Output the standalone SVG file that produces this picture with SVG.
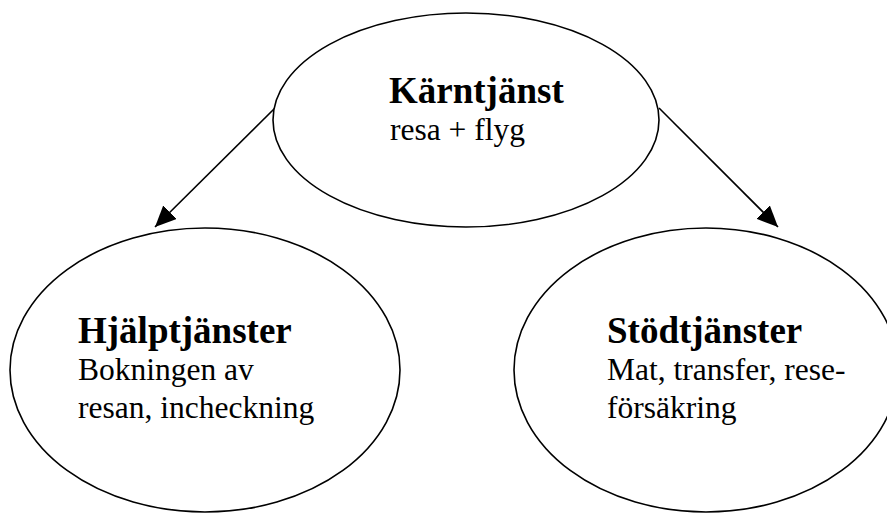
<svg xmlns="http://www.w3.org/2000/svg" width="887" height="513" viewBox="0 0 887 513">
  <style>
    .node { fill: #ffffff; stroke: #000000; stroke-width: 1.6; }
    .title { font-family: "Liberation Serif", "Times New Roman", serif; font-weight: bold; font-size: 37px; fill: #000000; }
    .body { font-family: "Liberation Serif", "Times New Roman", serif; font-size: 31.5px; fill: #000000; }
    .edge { stroke: #000000; stroke-width: 1.6; fill: none; marker-end: url(#arrow); }
  </style>
  <defs>
    <marker id="arrow" markerUnits="userSpaceOnUse" markerWidth="21" markerHeight="19" refX="21" refY="9.5" orient="auto">
      <path d="M0,0 L21,9.5 L0,19 z" fill="#000000"/>
    </marker>
  </defs>
  <rect width="887" height="513" fill="#ffffff"/>

  <g id="connectors">
    <line class="edge" x1="275" y1="108" x2="155" y2="227"/>
    <line class="edge" x1="659" y1="108" x2="778" y2="227"/>
  </g>

  <g id="karntjanst">
    <ellipse class="node" cx="466" cy="120" rx="193" ry="107"/>
    <text class="title" x="389" y="103">Kärntjänst</text>
    <text class="body" x="390" y="140">resa + flyg</text>
  </g>

  <g id="hjalptjanster">
    <ellipse class="node" cx="205" cy="370" rx="195" ry="142"/>
    <text class="title" x="78" y="343">Hjälptjänster</text>
    <text class="body" x="78" y="380">Bokningen av</text>
    <text class="body" x="78" y="418">resan, incheckning</text>
  </g>

  <g id="stodtjanster">
    <ellipse class="node" cx="706" cy="370" rx="192" ry="142"/>
    <text class="title" x="607" y="343">Stödtjänster</text>
    <text class="body" x="607" y="380">Mat, transfer, rese-</text>
    <text class="body" x="607" y="418">försäkring</text>
  </g>
</svg>
